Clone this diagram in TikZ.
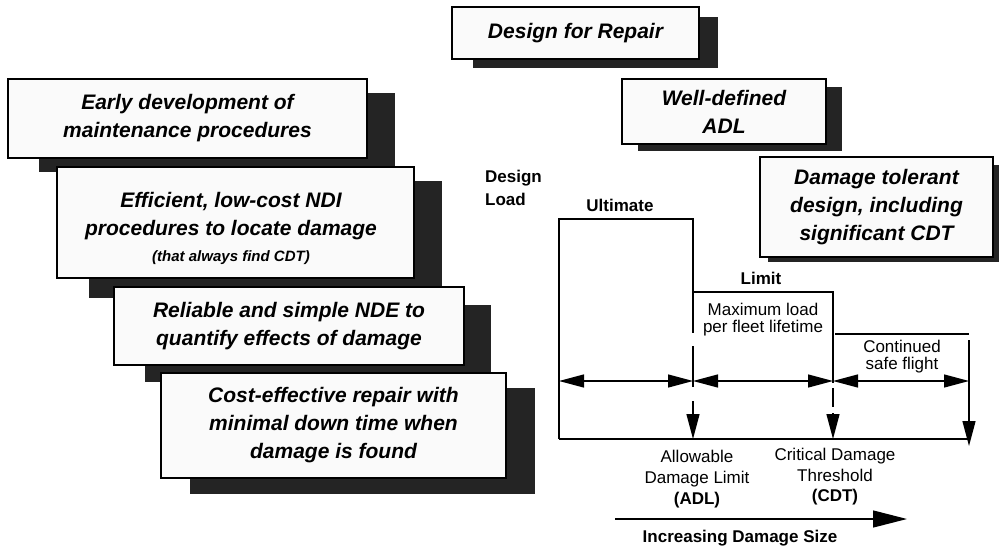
\documentclass[tikz,border=0pt]{standalone}
\usepackage{fontspec}
\setmainfont{Liberation Sans}
\usetikzlibrary{arrows.meta}
\definecolor{shade}{HTML}{242424}
\definecolor{boxfill}{HTML}{FAFAFA}
\tikzset{
  sbox/.style={draw=black, line width=1.3pt, fill=boxfill, inner sep=0pt, align=center,
    font=\fontsize{21}{28}\selectfont\bfseries\itshape},
  shadowfill/.style={fill=shade},
  lbl/.style={inner sep=0pt, align=center, font=\fontsize{17}{17}\selectfont},
  blbl/.style={lbl, font=\fontsize{17}{17}\selectfont\bfseries},
  chart/.style={line width=1.3pt},
  tri/.style={-{Triangle[length=25pt,width=13pt]}},
  dtri/.style={{Triangle[length=25pt,width=13pt]}-{Triangle[length=25pt,width=13pt]}},
}
\begin{document}
\begin{tikzpicture}[x=1pt,y=-1pt]
\useasboundingbox (0,0) rectangle (999,546);

% ---- left stack of boxes ----
\fill[shadowfill] (39,93) rectangle (395,172);
\node[sbox, minimum width=359pt, minimum height=79pt] (b1) at (187.5,118.5)
  {Early development of\\maintenance procedures};
\fill[shadowfill] (89,181) rectangle (442,298);
\node[sbox, minimum width=357pt, minimum height=111pt] (b2) at (235.5,222.5) {};
\node[inner sep=0pt, align=center, font=\fontsize{21}{28}\selectfont\bfseries\itshape] (b2t) at (231,216)
  {Efficient, low-cost NDI\\procedures to locate damage};
\node[inner sep=0pt, font=\fontsize{15}{16}\selectfont\bfseries\itshape] (b2s) at (231,258)
  {(that always find CDT)};
\fill[shadowfill] (145,305) rectangle (491,382);
\node[sbox, minimum width=350pt, minimum height=78pt] (b3) at (289,326)
  {Reliable and simple NDE to\\quantify effects of damage};
\fill[shadowfill] (190,388) rectangle (535,494);
\node[sbox, minimum width=345pt, minimum height=105pt] (b4) at (333.5,425.5)
  {Cost-effective repair with\\minimal down time when\\damage is found};

% ---- right boxes ----
\fill[shadowfill] (473,17) rectangle (718,68);
\node[sbox, minimum width=247pt, minimum height=52pt] (b5) at (575.5,33)
  {Design for Repair};
\fill[shadowfill] (638,87) rectangle (842,151);
\node[sbox, minimum width=204pt, minimum height=65pt] (b6) at (724,111.5)
  {Well-defined\\ADL};
\fill[shadowfill] (768,165) rectangle (1003,262);
\node[sbox, minimum width=233pt, minimum height=100pt] (b7) at (876.5,207)
  {Damage tolerant\\design, including\\significant CDT};

% ---- chart ----
\coordinate (UL) at (559,219);
\coordinate (UR) at (693,219);
\coordinate (A1) at (693,333);
\coordinate (A2) at (693,346);
\coordinate (A3) at (693,387);
\coordinate (A4) at (693,401);
\coordinate (AB) at (693,439);
\coordinate (LimL) at (693,292);
\coordinate (LimR) at (833,292);
\coordinate (C1) at (833,383);
\coordinate (C2) at (833,388);
\coordinate (C3) at (833,407);
\coordinate (C4) at (833,413);
\coordinate (CB) at (833,439);
\coordinate (SL) at (835,334);
\coordinate (SR) at (969,334);
\coordinate (R1) at (969,340);
\coordinate (RB) at (969,446);
\coordinate (BL) at (559,439);
\coordinate (BR) at (969,439);
\coordinate (H0) at (559,381);
\coordinate (H1) at (693,381);
\coordinate (H2) at (833,381);
\coordinate (H3) at (969,381);
\coordinate (IA) at (615,519);
\coordinate (IB) at (907,519);

\draw[chart] (BL) -- (UL) -- (UR) -- (A1);
\draw[chart] (A2) -- (A3);
\draw[chart,tri] (A4) -- (AB);
\draw[chart] (LimL) -- (LimR) -- (C1);
\draw[chart] (C2) -- (C3);
\draw[chart,tri] (C4) -- (CB);
\draw[chart] (SL) -- (SR);
\draw[chart,tri] (R1) -- (RB);
\draw[chart] (BL) -- (BR);
\draw[chart,dtri] (H0) -- (H1);
\draw[chart,dtri] (H1) -- (H2);
\draw[chart,dtri] (H2) -- (H3);
\draw[chart,-{Triangle[length=34pt,width=17pt]}] (IA) -- (IB);

% ---- labels ----
\node[blbl, align=left, anchor=west, font=\fontsize{17}{23}\selectfont\bfseries] (dl) at (485,188) {Design\\Load};
\node[blbl] (ult) at (620,205) {Ultimate};
\node[blbl] (lim) at (761,278) {Limit};
\node[lbl] (max) at (763,320) {Maximum load\\per fleet lifetime};
\node[lbl] (csf) at (902,357) {Continued\\safe flight};
\node[lbl, font=\fontsize{17}{21}\selectfont] (adl) at (697,479) {Allowable\\Damage Limit\\\textbf{(ADL)}};
\node[lbl, font=\fontsize{17}{20.5}\selectfont] (cdt) at (835,477) {Critical Damage\\Threshold\\\textbf{(CDT)}};
\node[blbl] (inc) at (740,538) {Increasing Damage Size};
\end{tikzpicture}
\end{document}
